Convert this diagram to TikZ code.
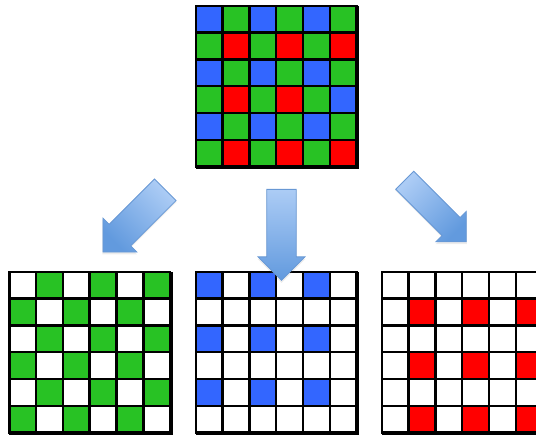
\documentclass[tikz,border=0pt]{standalone}
\usetikzlibrary{shapes.arrows,shadows}
\definecolor{bl}{RGB}{51,102,255}
\definecolor{gr}{RGB}{40,194,36}
\definecolor{rd}{RGB}{255,0,0}
\colorlet{wh}{white}
\definecolor{arrowlight}{RGB}{172,204,245}
\definecolor{arrowdark}{RGB}{98,154,222}
\definecolor{arrowline}{RGB}{104,152,212}
\tikzset{gridbox/.style={
    rectangle,
    draw,
    line width=2.5pt,
    minimum size=161pt,
    inner sep=0pt
  },
  cellbox/.style={draw=black,line width=2.5pt},
  bigarrow/.style={
    single arrow,
    draw=arrowline,
    line width=0.8pt,
    top color=arrowlight,
    bottom color=arrowdark,
    inner xsep=0pt,
    minimum height=88pt,
    drop shadow={opacity=0.15,shadow xshift=0pt,shadow yshift=-1.5pt,shadow scale=1.02}
  },
}
\newcommand{\cs}{26.83}
% fill the 6x6 cells of a grid node, row by row
\newcommand{\fillcells}[2]{%
  \foreach \row [count=\ri from 0] in {#2} {
    \foreach \cellcol [count=\ci from 0] in \row {
      \path[cellbox,fill=\cellcol] ([shift={(\ci*\cs,\ri*\cs)}]#1.north west)
        rectangle ++(\cs,\cs);
    }
  }
}

\begin{document}
\begin{tikzpicture}[x=1pt,y=-1pt]
  \useasboundingbox (0,0) rectangle (536,437);
  \clip (0,0) rectangle (536,437);
  \node [gridbox] (bayer) at (277.5,87.5) {};
  \node [gridbox] (gridG) at (91,353.5) {};
  \node [gridbox] (gridB) at (277.5,353.5) {};
  \node [gridbox] (gridR) at (463.5,353.5) {};
  \fillcells{bayer}{{bl,gr,bl,gr,bl,gr},{gr,rd,gr,rd,gr,rd},{bl,gr,bl,gr,bl,gr},
    {gr,rd,gr,rd,gr,bl},{bl,gr,bl,gr,bl,gr},{gr,rd,gr,rd,gr,rd}}
  \fillcells{gridG}{{wh,gr,wh,gr,wh,gr},{gr,wh,gr,wh,gr,wh},{wh,gr,wh,gr,wh,gr},
    {gr,wh,gr,wh,gr,wh},{wh,gr,wh,gr,wh,gr},{gr,wh,gr,wh,gr,wh}}
  \fillcells{gridB}{{bl,wh,bl,wh,bl,wh},{wh,wh,wh,wh,wh,wh},{bl,wh,bl,wh,bl,wh},
    {wh,wh,wh,wh,wh,wh},{bl,wh,bl,wh,bl,wh},{wh,wh,wh,wh,wh,wh}}
  \fillcells{gridR}{{wh,wh,wh,wh,wh,wh},{wh,rd,wh,rd,wh,rd},{wh,wh,wh,wh,wh,wh},
    {wh,rd,wh,rd,wh,rd},{wh,wh,wh,wh,wh,wh},{wh,rd,wh,rd,wh,rd}}
  % block arrows from the bayer grid to the three colour planes
  \node [bigarrow,rotate=-135,shading angle=-45,minimum width=48pt,inner ysep=12pt] (arrowG) at (139.5,215.5) {};
  \node [bigarrow,rotate=-90,minimum width=47pt,inner ysep=11.5pt,minimum height=91pt] (arrowB) at (281.5,227.5) {};
  \node [bigarrow,rotate=-45,shading angle=45,minimum width=43pt,inner ysep=10pt,minimum height=87pt] (arrowR) at (431,206.5) {};
\end{tikzpicture}
\end{document}
